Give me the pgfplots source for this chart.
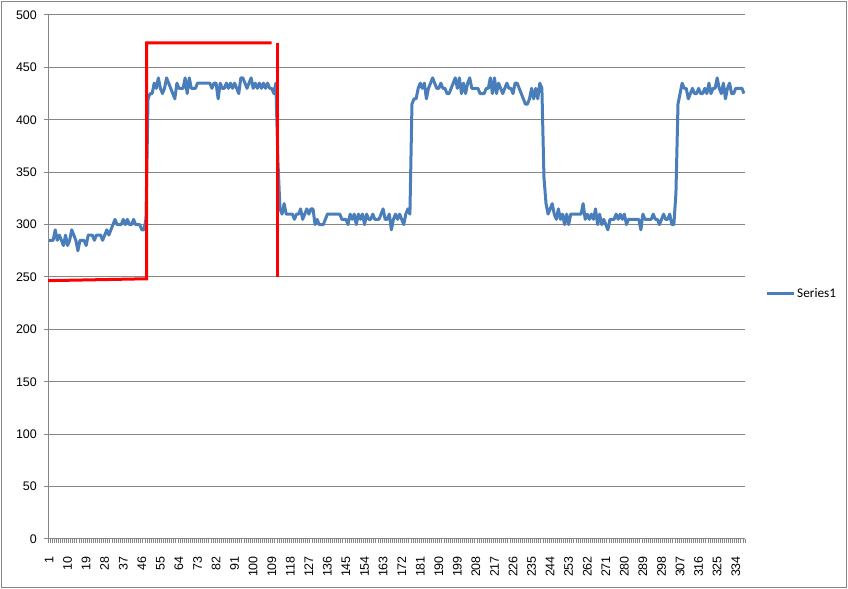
\documentclass[border=0pt]{standalone}
\usepackage{pgfplots}
\pgfplotsset{compat=1.18}
\usepackage{pgfplotstable}
\usepackage{fontspec}
\setmainfont{Liberation Sans}
\newfontfamily\legendfont{Carlito}
\definecolor{excelblue}{HTML}{4A7EBB}
\definecolor{gridgray}{HTML}{868686}

% Series1, one value per category 1..338
\pgfplotstableread{
i y
1 285
2 285
3 285
4 295
5 285
6 290
7 285
8 280
9 290
10 280
11 285
12 295
13 290
14 285
15 275
16 285
17 285
18 285
19 280
20 290
21 290
22 290
23 285
24 290
25 290
26 290
27 285
28 290
29 295
30 290
31 295
32 300
33 305
34 300
35 300
36 300
37 305
38 300
39 305
40 300
41 300
42 305
43 300
44 300
45 300
46 295
47 295
48 305
49 420
50 425
51 425
52 435
53 430
54 440
55 430
56 425
57 430
58 440
59 435
60 430
61 425
62 420
63 435
64 430
65 430
66 430
67 440
68 425
69 440
70 430
71 430
72 430
73 435
74 435
75 435
76 435
77 435
78 435
79 435
80 430
81 435
82 435
83 420
84 435
85 430
86 430
87 435
88 430
89 435
90 430
91 435
92 430
93 425
94 440
95 440
96 435
97 430
98 435
99 440
100 430
101 435
102 430
103 435
104 430
105 435
106 430
107 435
108 430
109 430
110 425
111 435
112 360
113 315
114 310
115 320
116 310
117 310
118 310
119 310
120 305
121 310
122 310
123 315
124 305
125 310
126 315
127 310
128 315
129 315
130 300
131 305
132 300
133 300
134 300
135 305
136 310
137 310
138 310
139 310
140 310
141 310
142 310
143 305
144 305
145 305
146 300
147 310
148 305
149 310
150 300
151 310
152 305
153 310
154 300
155 310
156 305
157 305
158 310
159 305
160 305
161 305
162 310
163 315
164 305
165 305
166 310
167 295
168 305
169 310
170 305
171 310
172 305
173 300
174 310
175 315
176 310
177 415
178 420
179 420
180 430
181 435
182 430
183 435
184 420
185 430
186 435
187 440
188 435
189 430
190 430
191 435
192 430
193 430
194 425
195 425
196 430
197 435
198 440
199 430
200 440
201 425
202 435
203 425
204 435
205 440
206 430
207 430
208 430
209 430
210 425
211 425
212 425
213 430
214 430
215 440
216 425
217 440
218 425
219 435
220 430
221 425
222 430
223 435
224 430
225 430
226 425
227 435
228 435
229 430
230 425
231 420
232 415
233 415
234 420
235 430
236 420
237 430
238 420
239 435
240 430
241 345
242 320
243 310
244 315
245 320
246 310
247 305
248 315
249 305
250 310
251 300
252 310
253 300
254 310
255 310
256 310
257 310
258 310
259 310
260 320
261 305
262 310
263 305
264 310
265 305
266 315
267 300
268 310
269 300
270 305
271 300
272 295
273 305
274 305
275 305
276 310
277 305
278 310
279 305
280 310
281 300
282 305
283 305
284 305
285 305
286 305
287 305
288 295
289 310
290 305
291 305
292 305
293 305
294 310
295 305
296 305
297 300
298 305
299 310
300 305
301 305
302 310
303 300
304 300
305 330
306 415
307 425
308 435
309 430
310 430
311 420
312 425
313 430
314 425
315 425
316 430
317 425
318 425
319 430
320 425
321 435
322 425
323 430
324 430
325 440
326 430
327 425
328 435
329 420
330 430
331 435
332 425
333 425
334 430
335 430
336 430
337 430
338 425
}\seriesone

\begin{document}
\begin{tikzpicture}[x=1bp,y=1bp]
\useasboundingbox (0,0) rectangle (848,589);
\draw[gridgray, line width=1bp] (1.5,1.5) rectangle (846.5,587.5);
\begin{axis}[
  at={(48bp,50bp)}, anchor=south west,
  scale only axis, width=697bp, height=524bp,
  xmin=0.5, xmax=338.5, ymin=0, ymax=500,
  axis lines*=left,
  axis line style={gridgray, line width=1bp},
  ytick={0,50,...,500},
  xtick={1,10,...,334},
  minor xtick={0.5,1.5,...,338.5},
  tick align=outside,
  major tick length=4bp,
  minor tick length=4bp,
  x tick style={draw=none},
  minor x tick style={draw=gridgray, line width=0.8bp},
  y tick style={gridgray, line width=1bp},
  ymajorgrids,
  grid style={gridgray, line width=1bp},
  /pgf/number format/assume math mode=true,
  ticklabel style={font=\fontsize{12.5}{14}\selectfont, text=black},
  xticklabel style={rotate=90, anchor=east, inner sep=0pt},
  xticklabel shift=13bp,
  yticklabel style={anchor=east, inner sep=0pt},
  yticklabel shift=7bp,
  legend style={at={(1.0287,0.4676)}, anchor=west, draw=none, fill=none,
    inner sep=0pt, font=\legendfont\fontsize{13.3}{15}\selectfont},
  legend cell align=left,
  legend image code/.code={\draw[#1] (0bp,0bp) -- (27bp,0bp);},
]
\addplot[excelblue, line width=3bp, line join=round] table[x=i, y=y] {\seriesone};
\addlegendentry{Series1}
\addplot[red, line width=3bp, forget plot] coordinates {(0.5,246.5) (48.3,248.3) (48.3,473.3) (108.9,473.3)};
\addplot[red, line width=3bp, forget plot] coordinates {(111.7,473.3) (111.7,250)};
\end{axis}
\end{tikzpicture}
\end{document}
